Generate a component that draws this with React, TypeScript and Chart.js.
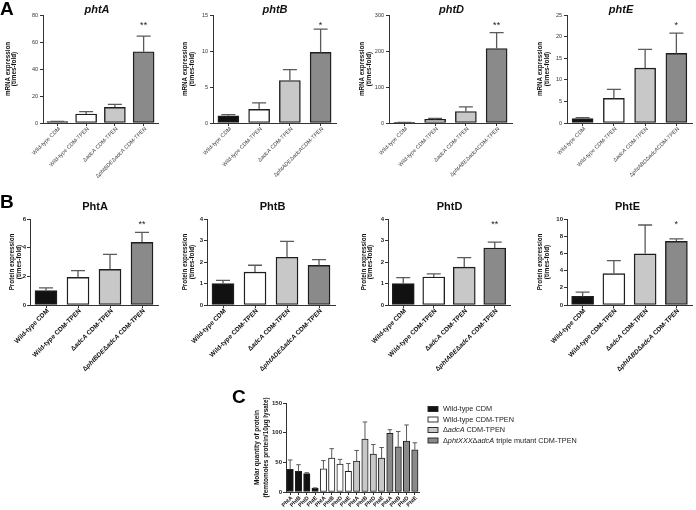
import React, { useEffect, useRef } from "react";
import { Chart, registerables } from "chart.js";

Chart.register(...registerables);

const PAGE_W = 696;
const PAGE_H = 510;
const FAMILY = "'Liberation Sans', Arial, Helvetica, sans-serif";
Chart.defaults.font.family = FAMILY;

// ---------- shared ----------
const groupColors = ["#111111", "#ffffff", "#c8c8c8", "#8a8a8a"];

// ---------- Panel A: mRNA expression (times-fold) ----------
const mrnaLabelsPhtA = ["Wild-type CDM", "Wild-type CDM-TPEN", "ΔadcA CDM-TPEN", "ΔphtBDEΔadcA CDM-TPEN"];
const mrnaLabelsPhtB = ["Wild-type CDM", "Wild-type CDM-TPEN", "ΔadcA CDM-TPEN", "ΔphtADEΔadcACDM-TPEN"];
const mrnaLabelsPhtD = ["Wild-type CDM", "Wild-type CDM-TPEN", "ΔadcA CDM-TPEN", "ΔphtABEΔadcACDM-TPEN"];
const mrnaLabelsPhtE = ["Wild-type CDM", "Wild-type CDM-TPEN", "ΔadcA CDM-TPEN", "ΔphtABDΔadcACDM-TPEN"];

const mrnaPhtA = [1.0, 6.7, 11.6, 52.8];
const mrnaPhtAErr = [0.2, 1.7, 2.2, 11.6];
const mrnaPhtB = [1.0, 1.9, 5.9, 9.8];
const mrnaPhtBErr = [0.15, 0.9, 1.5, 3.25];
const mrnaPhtD = [1.0, 10, 32, 207];
const mrnaPhtDErr = [0.6, 3, 13, 44];
const mrnaPhtE = [1.0, 5.7, 12.7, 16.1];
const mrnaPhtEErr = [0.25, 2.1, 4.35, 4.7];

const mrnaTicksPhtA = [0, 20, 40, 60, 80];
const mrnaTicksPhtB = [0, 5, 10, 15];
const mrnaTicksPhtD = [0, 100, 200, 300];
const mrnaTicksPhtE = [0, 5, 10, 15, 20, 25];

const mrnaStarsPhtA = ["", "", "", "**"];
const mrnaStarsPhtB = ["", "", "", "*"];
const mrnaStarsPhtD = ["", "", "", "**"];
const mrnaStarsPhtE = ["", "", "", "*"];

// ---------- Panel B: protein expression (times-fold) ----------
const protLabelsPhtA = ["Wild-type CDM", "Wild-type CDM-TPEN", "ΔadcA CDM-TPEN", "ΔphtBDEΔadcA CDM-TPEN"];
const protLabelsPhtB = ["Wild-type CDM", "Wild-type CDM-TPEN", "ΔadcA CDM-TPEN", "ΔphtADEΔadcA CDM-TPEN"];
const protLabelsPhtD = ["Wild-type CDM", "Wild-type CDM-TPEN", "ΔadcA CDM-TPEN", "ΔphtABEΔadcA CDM-TPEN"];
const protLabelsPhtE = ["Wild-type CDM", "Wild-type CDM-TPEN", "ΔadcA CDM-TPEN", "ΔphtABDΔadcA CDM-TPEN"];

const protPhtA = [1.0, 1.93, 2.49, 4.37];
const protPhtAErr = [0.2, 0.47, 1.04, 0.7];
const protPhtB = [1.0, 1.53, 2.22, 1.84];
const protPhtBErr = [0.15, 0.32, 0.74, 0.27];
const protPhtD = [1.0, 1.3, 1.76, 2.65];
const protPhtDErr = [0.27, 0.15, 0.44, 0.27];
const protPhtE = [1.0, 3.65, 5.95, 7.4];
const protPhtEErr = [0.5, 1.5, 3.35, 0.3];

const protTicksPhtA = [0, 2, 4, 6];
const protTicksPhtB = [0, 1, 2, 3, 4];
const protTicksPhtD = [0, 1, 2, 3, 4];
const protTicksPhtE = [0, 2, 4, 6, 8, 10];

const protStarsPhtA = ["", "", "", "**"];
const protStarsPhtB = ["", "", "", ""];
const protStarsPhtD = ["", "", "", "**"];
const protStarsPhtE = ["", "", "", "*"];

// ---------- Panel C: molar quantity ----------
const molarCategories = ["PhtA", "PhtB", "PhtD", "PhtE"];
const molarSeriesNames = [
  "Wild-type CDM",
  "Wild-type CDM-TPEN",
  "ΔadcA CDM-TPEN",
  "ΔphtXXXΔadcA triple mutant CDM-TPEN",
];
const molarWildType = [38, 35, 31, 6];
const molarWildTypeErr = [16, 11, 1.5, 1];
const molarWildTypeTPEN = [39, 57, 47, 35];
const molarWildTypeTPENErr = [14, 16, 8, 13];
const molarAdcA = [52, 89, 64, 57];
const molarAdcAErr = [18, 29, 16, 18];
const molarTriple = [99, 76, 86, 71];
const molarTripleErr = [6, 26, 27, 12];
const molarTicks = [0, 50, 100, 150];

// ---------- helpers ----------
type Font = { size: number; weight: string; color: string };

interface Spec {
  id: string;
  labels: string[];
  values: number[];
  errors: number[];
  colors: string[];
  ticks: number[];
  box: [number, number, number, number]; // x0, x1, top, bottom
  barThickness: number;
  borderWidth: number;
  capW: number;
  errWidth: number;
  yTickFont: Font;
  yTickPad: number;
  xLabelFont: Font;
  xLabelDx: number;
  xLabelDy: number;
  title?: { text: string; x: number; y: number; size: number; italic: boolean };
  yTitle: { lines: string[]; xs: number[]; font: Font };
  stars?: string[];
  starY?: number;
  extra?: (ctx: CanvasRenderingContext2D) => void;
}

const GENE_RE = /(pht[A-Z]+|adcA)/;

function drawRich(
  ctx: CanvasRenderingContext2D,
  text: string,
  x: number,
  y: number,
  size: number,
  weight: string,
  align: "left" | "right" | "center",
  forceItalic = false
) {
  const segs = text
    .split(GENE_RE)
    .filter((p) => p.length > 0)
    .map((p) => [p, forceItalic || /^(pht[A-Z]+|adcA)$/.test(p)] as [string, boolean]);
  const fontFor = (it: boolean) => `${it ? "italic " : ""}${weight} ${size}px ${FAMILY}`;
  let total = 0;
  const widths = segs.map(([t, it]) => {
    ctx.font = fontFor(it);
    const w = ctx.measureText(t).width;
    total += w;
    return w;
  });
  let cx = align === "left" ? x : align === "right" ? x - total : x - total / 2;
  ctx.textAlign = "left";
  segs.forEach(([t, it], i) => {
    ctx.font = fontFor(it);
    ctx.fillText(t, cx, y);
    cx += widths[i];
  });
}

function buildConfig(s: Spec): any {
  const [x0, x1, top, bottom] = s.box;
  const X_AXIS_H = 10;
  const plugin = {
    id: "decor_" + s.id,
    afterDatasetsDraw(chart: any) {
      const ctx: CanvasRenderingContext2D = chart.ctx;
      const meta = chart.getDatasetMeta(0);
      const ys = chart.scales.y;
      ctx.save();
      ctx.strokeStyle = "#5a5a5a";
      ctx.lineWidth = s.errWidth;
      s.values.forEach((v, i) => {
        const bar = meta.data[i];
        const x = bar.x;
        const yv = ys.getPixelForValue(v);
        const ye = ys.getPixelForValue(v + s.errors[i]);
        ctx.beginPath();
        ctx.moveTo(x, yv);
        ctx.lineTo(x, ye);
        ctx.moveTo(x - s.capW / 2, ye);
        ctx.lineTo(x + s.capW / 2, ye);
        ctx.stroke();
      });
      ctx.restore();
    },
    afterDraw(chart: any) {
      const ctx: CanvasRenderingContext2D = chart.ctx;
      const xs = chart.scales.x;
      // x labels, rotated 45°
      s.labels.forEach((lab, i) => {
        const x = xs.getPixelForValue(i);
        ctx.save();
        ctx.translate(x + s.xLabelDx, bottom + s.xLabelDy);
        ctx.rotate(-Math.PI / 4);
        ctx.fillStyle = s.xLabelFont.color;
        ctx.textBaseline = "middle";
        drawRich(ctx, lab, 0, 0, s.xLabelFont.size, s.xLabelFont.weight, "right");
        ctx.restore();
      });
      // y title
      const cy = (top + bottom) / 2;
      s.yTitle.lines.forEach((line, j) => {
        ctx.save();
        ctx.translate(s.yTitle.xs[j], cy);
        ctx.rotate(-Math.PI / 2);
        ctx.fillStyle = s.yTitle.font.color;
        ctx.textBaseline = "middle";
        drawRich(ctx, line, 0, 0, s.yTitle.font.size, s.yTitle.font.weight, "center");
        ctx.restore();
      });
      // title
      if (s.title) {
        ctx.save();
        ctx.fillStyle = "#111";
        ctx.textBaseline = "alphabetic";
        drawRich(ctx, s.title.text, s.title.x, s.title.y, s.title.size, "bold", "center", s.title.italic);
        ctx.restore();
      }
      // significance stars
      if (s.stars) {
        const meta = chart.getDatasetMeta(0);
        ctx.save();
        ctx.fillStyle = "#222";
        ctx.font = `9px ${FAMILY}`;
        ctx.textAlign = "center";
        ctx.textBaseline = "alphabetic";
        s.stars.forEach((st, i) => {
          if (st) ctx.fillText(st, meta.data[i].x, s.starY || top);
        });
        ctx.restore();
      }
      if (s.extra) {
        ctx.save();
        s.extra(ctx);
        ctx.restore();
      }
    },
  };

  const yMin = s.ticks[0];
  const yMax = s.ticks[s.ticks.length - 1];
  const yStep = s.ticks[1] - s.ticks[0];

  return {
    type: "bar",
    data: {
      labels: s.labels,
      datasets: [
        {
          data: s.values,
          backgroundColor: s.colors,
          borderColor: "#1e1e1e",
          borderWidth: s.borderWidth,
          borderSkipped: false,
          barThickness: s.barThickness,
        },
      ],
    },
    options: {
      responsive: false,
      animation: false,
      devicePixelRatio: 1,
      events: [],
      layout: {
        padding: { left: 0, top: top, right: PAGE_W - x1, bottom: PAGE_H - bottom - X_AXIS_H },
      },
      plugins: {
        legend: { display: false },
        tooltip: { enabled: false },
        title: { display: false },
      },
      scales: {
        x: {
          offset: true,
          grid: {
            display: true,
            drawOnChartArea: false,
            drawTicks: true,
            tickLength: 3,
            offset: false,
            color: "#333",
            lineWidth: 1,
          },
          border: { display: true, color: "#333", width: 1 },
          ticks: { display: false },
          afterFit: (sc: any) => {
            sc.height = X_AXIS_H;
          },
        },
        y: {
          min: yMin,
          max: yMax,
          ticks: {
            stepSize: yStep,
            color: s.yTickFont.color,
            padding: s.yTickPad,
            font: { size: s.yTickFont.size, weight: s.yTickFont.weight, family: FAMILY },
          },
          grid: { display: true, drawOnChartArea: false, tickLength: 3, color: "#333", lineWidth: 1 },
          border: { display: true, color: "#333", width: 1 },
          afterFit: (sc: any) => {
            sc.width = x0;
          },
        },
      },
    },
    plugins: [plugin],
  };
}

// ---------- layout specs ----------
const A_TOP = 15;
const A_BOTTOM = 123;
const B_TOP = 219;
const B_BOTTOM = 305;

const aTick: Font = { size: 5.5, weight: "normal", color: "#333" };
const aXLab: Font = { size: 5.5, weight: "normal", color: "#444" };
const aYT: Font = { size: 6.3, weight: "bold", color: "#111" };
const bTick: Font = { size: 6, weight: "bold", color: "#222" };
const bXLab: Font = { size: 6.5, weight: "bold", color: "#111" };
const bYT: Font = { size: 6.3, weight: "bold", color: "#111" };

function panelLetter(ctx: CanvasRenderingContext2D, t: string, x: number, y: number) {
  ctx.fillStyle = "#000";
  ctx.font = `bold 19px ${FAMILY}`;
  ctx.textAlign = "left";
  ctx.textBaseline = "alphabetic";
  ctx.fillText(t, x, y);
}

function mrnaSpec(
  id: string,
  labels: string[],
  values: number[],
  errors: number[],
  ticks: number[],
  stars: string[],
  box: [number, number],
  titleX: number,
  yTitleXs: number[],
  extra?: (ctx: CanvasRenderingContext2D) => void
): Spec {
  return {
    id,
    labels,
    values,
    errors,
    colors: groupColors,
    ticks,
    box: [box[0], box[1], A_TOP, A_BOTTOM],
    barThickness: 21,
    borderWidth: 1.4,
    capW: 14,
    errWidth: 1.3,
    yTickFont: aTick,
    yTickPad: 2,
    xLabelFont: aXLab,
    xLabelDx: 2,
    xLabelDy: 5,
    title: { text: id, x: titleX, y: 12.5, size: 11, italic: true },
    yTitle: { lines: ["mRNA expression", "(times-fold)"], xs: yTitleXs, font: aYT },
    stars,
    starY: 27.5,
    extra,
  };
}

function protSpec(
  id: string,
  labels: string[],
  values: number[],
  errors: number[],
  ticks: number[],
  stars: string[],
  box: [number, number],
  titleX: number,
  yTitleXs: number[],
  extra?: (ctx: CanvasRenderingContext2D) => void
): Spec {
  return {
    id: "prot" + id,
    labels,
    values,
    errors,
    colors: groupColors,
    ticks,
    box: [box[0], box[1], B_TOP, B_BOTTOM],
    barThickness: 22,
    borderWidth: 1.4,
    capW: 14,
    errWidth: 1.3,
    yTickFont: bTick,
    yTickPad: 1,
    xLabelFont: bXLab,
    xLabelDx: 2,
    xLabelDy: 5,
    title: { text: id, x: titleX, y: 210, size: 11, italic: false },
    yTitle: { lines: ["Protein expression", "(times-fold)"], xs: yTitleXs, font: bYT },
    stars,
    starY: 227,
    extra,
  };
}

const molarValues = [...molarWildType, ...molarWildTypeTPEN, ...molarAdcA, ...molarTriple];
const molarErrors = [...molarWildTypeErr, ...molarWildTypeTPENErr, ...molarAdcAErr, ...molarTripleErr];
const molarLabels = [...molarCategories, ...molarCategories, ...molarCategories, ...molarCategories];
const molarColors = molarValues.map((_, i) => groupColors[Math.floor(i / molarCategories.length)]);

function molarLegend(ctx: CanvasRenderingContext2D) {
  panelLetter(ctx, "C", 232, 403);
  const rowsY = [409, 419.5, 430, 440.5];
  molarSeriesNames.forEach((name, i) => {
    const y = rowsY[i];
    ctx.fillStyle = groupColors[i];
    ctx.fillRect(428, y - 2.5, 10, 5);
    ctx.strokeStyle = "#222";
    ctx.lineWidth = 0.9;
    ctx.strokeRect(428, y - 2.5, 10, 5);
    ctx.fillStyle = "#222";
    ctx.textBaseline = "middle";
    drawRich(ctx, name, 443, y, 7.3, "normal", "left");
  });
}

const SPECS: Spec[] = [
  mrnaSpec("phtA", mrnaLabelsPhtA, mrnaPhtA, mrnaPhtAErr, mrnaTicksPhtA, mrnaStarsPhtA, [43, 158], 97, [8, 14.5], (ctx) =>
    panelLetter(ctx, "A", 0, 15)
  ),
  mrnaSpec("phtB", mrnaLabelsPhtB, mrnaPhtB, mrnaPhtBErr, mrnaTicksPhtB, mrnaStarsPhtB, [213, 336], 275, [185.5, 192.5]),
  mrnaSpec("phtD", mrnaLabelsPhtD, mrnaPhtD, mrnaPhtDErr, mrnaTicksPhtD, mrnaStarsPhtD, [389, 512], 451.5, [362, 369]),
  mrnaSpec("phtE", mrnaLabelsPhtE, mrnaPhtE, mrnaPhtEErr, mrnaTicksPhtE, mrnaStarsPhtE, [567, 692], 621, [540.5, 547.5]),
  protSpec("PhtA", protLabelsPhtA, protPhtA, protPhtAErr, protTicksPhtA, protStarsPhtA, [30, 158], 95, [12, 19], (ctx) =>
    panelLetter(ctx, "B", 0, 208)
  ),
  protSpec("PhtB", protLabelsPhtB, protPhtB, protPhtBErr, protTicksPhtB, protStarsPhtB, [207, 335], 272.5, [185, 192]),
  protSpec("PhtD", protLabelsPhtD, protPhtD, protPhtDErr, protTicksPhtD, protStarsPhtD, [388, 510], 449.5, [364, 370.5]),
  protSpec("PhtE", protLabelsPhtE, protPhtE, protPhtEErr, protTicksPhtE, protStarsPhtE, [567, 692], 627.5, [540, 547.5]),
  {
    id: "molar",
    labels: molarLabels,
    values: molarValues,
    errors: molarErrors,
    colors: molarColors,
    ticks: molarTicks,
    box: [286, 419, 403, 492],
    barThickness: 6.4,
    borderWidth: 1,
    capW: 4.5,
    errWidth: 1,
    yTickFont: { size: 6, weight: "bold", color: "#222" },
    yTickPad: 1,
    xLabelFont: { size: 5.5, weight: "bold", color: "#111" },
    xLabelDx: 1.5,
    xLabelDy: 5,
    yTitle: {
      lines: ["Molar quantity of protein", "(femtomoles protein/10μg lysate)"],
      xs: [257.5, 266],
      font: { size: 6.4, weight: "bold", color: "#111" },
    },
    extra: molarLegend,
  },
];

function PanelChart({ spec }: { spec: Spec }) {
  const ref = useRef<HTMLCanvasElement | null>(null);
  useEffect(() => {
    const canvas = ref.current;
    if (!canvas) return;
    const chart = new Chart(canvas, buildConfig(spec));
    return () => chart.destroy();
  }, [spec]);
  return (
    <canvas
      ref={ref}
      width={PAGE_W}
      height={PAGE_H}
      style={{ position: "absolute", left: 0, top: 0, width: PAGE_W, height: PAGE_H, display: "block" }}
    />
  );
}

export default function App() {
  return (
    <div
      style={{
        position: "fixed",
        left: 0,
        top: 0,
        width: PAGE_W,
        height: PAGE_H,
        background: "#ffffff",
        overflow: "hidden",
      }}
    >
      {SPECS.map((s) => (
        <PanelChart key={s.id} spec={s} />
      ))}
    </div>
  );
}
